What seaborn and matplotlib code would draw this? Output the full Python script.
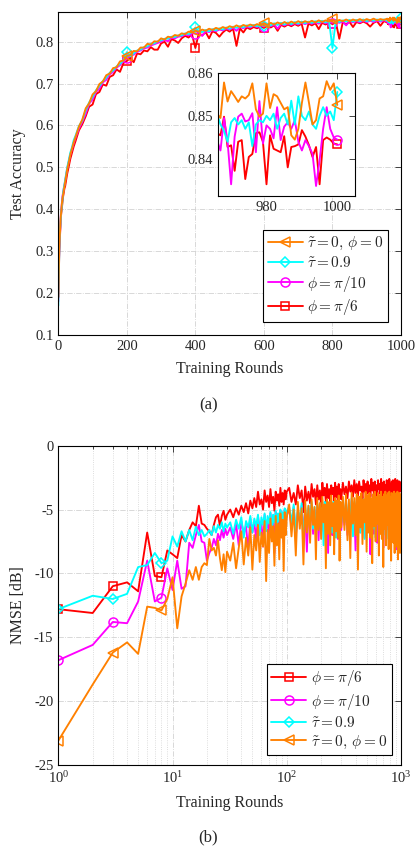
import numpy as np
import matplotlib
matplotlib.use("Agg")
import matplotlib.pyplot as plt
import seaborn as sns
from matplotlib.ticker import LogLocator, NullFormatter

# ---------------- data: (a) test accuracy ----------------
rounds_early = [0, 1, 2, 3, 4, 5, 6, 7, 8, 10, 12, 14, 16, 18, 20, 23, 26, 30, 35, 40, 45, 50]
rounds_a = np.r_[rounds_early, np.arange(60, 961, 10), np.arange(961, 1001)]

acc_orange = [
    0.19, 0.24, 0.28, 0.31, 0.33, 0.35, 0.365, 0.38, 0.39, 0.41, 0.425, 0.435, 0.445, 0.455, 0.465, 0.48, 0.495, 0.51, 0.53, 0.545, 0.56, 0.572,
    0.597, 0.614, 0.641, 0.653, 0.674, 0.682, 0.699, 0.705, 0.720, 0.724,
    0.737, 0.739, 0.753, 0.755, 0.766, 0.768, 0.778, 0.777, 0.786, 0.786,
    0.795, 0.793, 0.801, 0.800, 0.808, 0.805, 0.812, 0.810, 0.816, 0.814,
    0.820, 0.818, 0.824, 0.822, 0.826, 0.824, 0.829, 0.826, 0.831, 0.828,
    0.833, 0.830, 0.835, 0.832, 0.837, 0.834, 0.839, 0.835, 0.840, 0.837,
    0.841, 0.838, 0.842, 0.839, 0.844, 0.840, 0.845, 0.841, 0.846, 0.842,
    0.847, 0.843, 0.848, 0.844, 0.849, 0.845, 0.849, 0.846, 0.850, 0.846,
    0.851, 0.847, 0.851, 0.848, 0.853, 0.848, 0.852, 0.849, 0.853, 0.849,
    0.853, 0.850, 0.854, 0.850, 0.854, 0.851, 0.855, 0.851, 0.854, 0.852, 0.855,
    0.852, 0.851, 0.854, 0.850, 0.853, 0.8505, 0.8495, 0.8577, 0.8533, 0.8557,
    0.8545, 0.8532, 0.8545, 0.8540, 0.8548, 0.8575, 0.8515, 0.8498, 0.8505, 0.8575,
    0.8518, 0.8550, 0.8545, 0.8530, 0.8515, 0.8520, 0.8455, 0.8445, 0.8470, 0.8530,
    0.8577, 0.8530, 0.8480, 0.8490, 0.8540, 0.8545, 0.8580, 0.8560, 0.8575, 0.8525,
]
acc_cyan = [
    0.17, 0.23, 0.27, 0.30, 0.33, 0.35, 0.36, 0.375, 0.39, 0.405, 0.42, 0.44, 0.45, 0.46, 0.47, 0.485, 0.50, 0.515, 0.535, 0.548, 0.565, 0.575,
    0.598, 0.612, 0.636, 0.655, 0.668, 0.684, 0.694, 0.706, 0.714, 0.726,
    0.731, 0.741, 0.747, 0.756, 0.775, 0.765, 0.772, 0.779, 0.781, 0.787,
    0.789, 0.795, 0.796, 0.801, 0.803, 0.807, 0.807, 0.812, 0.811, 0.815,
    0.815, 0.820, 0.818, 0.823, 0.834, 0.824, 0.823, 0.828, 0.825, 0.830,
    0.827, 0.832, 0.829, 0.834, 0.831, 0.836, 0.833, 0.837, 0.834, 0.839,
    0.836, 0.840, 0.837, 0.841, 0.838, 0.843, 0.839, 0.844, 0.840, 0.845,
    0.841, 0.846, 0.842, 0.847, 0.843, 0.848, 0.844, 0.848, 0.845, 0.849,
    0.846, 0.850, 0.846, 0.850, 0.785, 0.851, 0.847, 0.851, 0.848, 0.852,
    0.848, 0.852, 0.849, 0.853, 0.849, 0.852, 0.850, 0.853, 0.850, 0.853, 0.851,
    0.849, 0.851, 0.848, 0.850, 0.847, 0.8505, 0.8480, 0.8465, 0.8440, 0.8485,
    0.8495, 0.8480, 0.8490, 0.8470, 0.8485, 0.8430, 0.8480, 0.8490, 0.8485, 0.8500,
    0.8490, 0.8505, 0.8470, 0.8495, 0.8505, 0.8480, 0.8535, 0.8480, 0.8545, 0.8500,
    0.8490, 0.8510, 0.8480, 0.8470, 0.8500, 0.8520, 0.8500, 0.8510, 0.8490, 0.8555,
]
acc_magenta = [
    0.18, 0.235, 0.275, 0.305, 0.325, 0.345, 0.36, 0.38, 0.395, 0.41, 0.43, 0.44, 0.45, 0.458, 0.468, 0.482, 0.497, 0.512, 0.53, 0.544, 0.558, 0.57,
    0.592, 0.609, 0.628, 0.652, 0.662, 0.680, 0.688, 0.703, 0.709, 0.722,
    0.728, 0.738, 0.744, 0.753, 0.760, 0.766, 0.769, 0.776, 0.779, 0.784,
    0.786, 0.791, 0.794, 0.797, 0.800, 0.804, 0.801, 0.809, 0.808, 0.812,
    0.813, 0.817, 0.815, 0.820, 0.819, 0.822, 0.814, 0.825, 0.823, 0.827,
    0.825, 0.829, 0.827, 0.831, 0.829, 0.833, 0.826, 0.835, 0.832, 0.836,
    0.834, 0.838, 0.835, 0.839, 0.836, 0.840, 0.837, 0.841, 0.831, 0.842,
    0.839, 0.843, 0.840, 0.844, 0.841, 0.845, 0.842, 0.845, 0.843, 0.846,
    0.843, 0.847, 0.844, 0.847, 0.845, 0.848, 0.845, 0.848, 0.839, 0.849,
    0.846, 0.849, 0.846, 0.850, 0.847, 0.850, 0.847, 0.850, 0.848, 0.851, 0.848,
    0.846, 0.844, 0.848, 0.843, 0.847, 0.8444, 0.8420, 0.8495, 0.8440, 0.8342,
    0.8452, 0.8498, 0.8505, 0.8487, 0.8490, 0.8506, 0.8416, 0.8534, 0.8436, 0.8478,
    0.8470, 0.8448, 0.8520, 0.8444, 0.8475, 0.8485, 0.8470, 0.8490, 0.8440, 0.8420,
    0.8444, 0.8430, 0.8412, 0.8338, 0.8397, 0.8470, 0.8520, 0.8470, 0.8450, 0.8445,
]
acc_red = [
    0.19, 0.22, 0.265, 0.30, 0.32, 0.34, 0.355, 0.37, 0.385, 0.40, 0.415, 0.43, 0.44, 0.45, 0.455, 0.47, 0.485, 0.50, 0.52, 0.535, 0.55, 0.562,
    0.588, 0.603, 0.622, 0.645, 0.650, 0.675, 0.680, 0.698, 0.695, 0.716,
    0.720, 0.734, 0.728, 0.749, 0.754, 0.761, 0.751, 0.772, 0.770, 0.779,
    0.777, 0.787, 0.781, 0.781, 0.796, 0.800, 0.788, 0.806, 0.803, 0.797,
    0.808, 0.814, 0.810, 0.818, 0.785, 0.820, 0.815, 0.823, 0.808, 0.825,
    0.821, 0.812, 0.822, 0.829, 0.824, 0.831, 0.790, 0.832, 0.822, 0.834,
    0.830, 0.835, 0.832, 0.836, 0.833, 0.838, 0.834, 0.839, 0.826, 0.840,
    0.836, 0.841, 0.837, 0.842, 0.838, 0.843, 0.810, 0.843, 0.839, 0.844,
    0.830, 0.845, 0.841, 0.846, 0.842, 0.846, 0.807, 0.846, 0.842, 0.847,
    0.835, 0.847, 0.844, 0.848, 0.844, 0.836, 0.845, 0.849, 0.838, 0.849, 0.846,
    0.844, 0.842, 0.846, 0.841, 0.845, 0.8460, 0.8455, 0.8498, 0.8428, 0.8432,
    0.8373, 0.8440, 0.8444, 0.8354, 0.8405, 0.8412, 0.8460, 0.8462, 0.8440, 0.8342,
    0.8455, 0.8424, 0.8420, 0.8416, 0.8453, 0.8381, 0.8428, 0.8430, 0.8434, 0.8467,
    0.8452, 0.8432, 0.8405, 0.8428, 0.8342, 0.8444, 0.8450, 0.8445, 0.8436, 0.8434,
]
marker_rounds_a = [200, 400, 600, 800, 1000]
labels_a = [r"$\tilde{\tau}=0,\,\phi=0$", r"$\tilde{\tau}=0.9$", r"$\phi=\pi/10$", r"$\phi=\pi/6$"]
xticks_a = [0, 200, 400, 600, 800, 1000]
yticks_a = [0.1, 0.2, 0.3, 0.4, 0.5, 0.6, 0.7, 0.8]
xticks_in = [980, 1000]
yticks_in = [0.84, 0.85, 0.86]

# ---------------- data: (b) NMSE ----------------
rounds_b = np.r_[np.arange(1, 31), np.arange(32, 101, 2), np.arange(105, 301, 5), np.arange(310, 1001, 10)]

nmse_red = [
    -12.8, -13.1, -11.0, -10.7, -11.4, -6.8, -10.2, -10.3, -8.2, -8.5,
    -8.8, -7.0, -7.5, -6.6, -6.0, -6.3, -4.7, -6.1, -6.2, -6.5,
    -6.7, -7.0, -6.2, -5.6, -5.4, -6.3, -5.5, -5.1, -5.8, -5.4,
    -5.0, -5.6, -4.9, -5.4, -4.7, -5.2, -4.5, -5.3, -4.3, -4.9,
    -4.1, -4.8, -3.6, -4.6, -4.2, -5.0, -3.5, -4.4, -3.9, -4.8,
    -3.4, -4.5, -4.0, -5.1, -3.6, -4.3, -3.8, -4.7, -3.3, -4.4,
    -3.7, -4.6, -3.5, -4.2, -3.6,
    -3.3, -4.4, -3.7, -4.6, -3.1, -4.1, -3.5, -5.2, -3.2, -4.3,
    -3.6, -4.5, -3.0, -4.0, -3.4, -4.6, -3.1, -4.2, -3.5, -4.8,
    -2.9, -3.9, -3.3, -4.4, -3.0, -4.1, -3.4, -4.5, -3.1, -3.8,
    -3.3, -4.3, -2.9, -4.0, -3.2, -4.6, -3.0, -3.9, -3.4, -4.2,
    -2.9, -3.8, -3.2, -4.1, -2.8, -3.6, -3.1, -4.0, -2.7, -3.7,
    -3.0, -3.9, -2.8, -3.5, -3.2, -4.2, -2.7, -3.6, -3.0, -3.8,
    -2.8, -3.7, -3.1, -4.0, -2.6, -3.5, -2.9, -3.9, -2.8, -3.6,
    -3.1, -4.1, -2.7, -3.4, -3.0, -3.8, -2.6, -3.7, -2.9, -4.0,
    -2.8, -3.5, -3.1, -3.9, -2.7, -3.6, -2.9, -3.8, -2.6, -3.4,
    -3.0, -4.0, -2.8, -3.7, -2.7, -3.5, -3.1, -3.9, -2.6, -3.6,
    -2.9, -3.8, -2.7, -3.5, -3.0, -3.9, -2.8, -3.6, -2.9, -3.4,
]
nmse_magenta = [
    -16.8, -15.6, -13.8, -13.9, -12.2, -9.0, -12.2, -11.9, -9.6, -11.3,
    -9.0, -11.2, -11.0, -7.6, -8.0, -7.0, -6.2, -7.5, -7.6, -9.0,
    -8.4, -8.0, -7.3, -7.8, -6.9, -7.4, -6.6, -7.2, -6.5, -7.0,
    -6.4, -7.3, -6.1, -7.8, -5.9, -6.9, -6.3, -8.2, -5.7, -6.8,
    -6.0, -7.4, -5.5, -6.6, -5.9, -7.9, -5.4, -6.5, -5.8, -7.2,
    -5.3, -6.4, -6.0, -8.4, -5.2, -6.3, -5.6, -7.0, -5.1, -6.2,
    -5.5, -7.6, -5.0, -6.1, -5.4,
    -5.0, -6.3, -4.8, -7.1, -5.2, -6.0, -4.7, -6.8, -5.1, -8.3,
    -4.9, -6.2, -4.6, -6.9, -5.0, -6.1, -4.8, -7.4, -4.6, -6.0,
    -5.1, -6.7, -4.5, -6.3, -4.9, -8.4, -4.7, -6.1, -4.6, -7.0,
    -5.0, -6.4, -4.5, -6.2, -4.8, -7.3, -4.6, -6.0, -4.9, -6.6,
    -4.6, -6.2, -4.4, -7.0, -4.8, -5.9, -4.3, -6.6, -4.7, -8.2,
    -4.5, -6.0, -4.3, -6.8, -4.6, -5.8, -4.2, -7.2, -4.5, -6.1,
    -4.4, -6.5, -4.7, -8.5, -4.3, -5.9, -4.5, -6.9, -4.2, -6.3,
    -4.6, -7.6, -4.4, -6.0, -4.3, -6.7, -4.5, -5.8, -4.2, -8.0,
    -4.4, -6.2, -4.6, -7.1, -4.3, -6.0, -4.5, -6.6, -4.2, -7.8,
    -4.4, -6.1, -4.3, -6.9, -4.6, -5.9, -4.2, -7.3, -4.4, -6.4,
    -4.3, -8.1, -4.5, -6.0, -4.2, -6.8, -4.4, -6.2, -4.3, -7.4,
]
nmse_cyan = [
    -12.8, -11.75, -12.0, -11.6, -9.5, -9.35, -8.4, -9.2, -9.0, -7.1,
    -7.9, -6.7, -7.5, -6.6, -7.4, -6.35, -7.0, -6.6, -7.1, -6.9,
    -6.6, -7.0, -6.3, -6.8, -6.2, -6.5, -6.0, -6.7, -6.1, -6.4,
    -6.0, -6.9, -5.8, -6.5, -5.6, -7.2, -5.9, -6.4, -5.5, -6.8,
    -5.7, -6.3, -5.4, -7.0, -5.6, -6.2, -5.3, -6.7, -5.5, -6.1,
    -5.2, -7.3, -5.4, -6.0, -5.1, -6.6, -5.3, -5.9, -5.0, -6.8,
    -5.2, -6.1, -4.9, -6.4, -5.1,
    -4.8, -6.0, -4.6, -6.7, -5.0, -5.8, -4.5, -7.6, -4.9, -6.2,
    -4.7, -5.9, -4.4, -6.5, -4.8, -7.0, -4.6, -5.8, -4.5, -6.3,
    -4.9, -7.8, -4.4, -6.0, -4.7, -6.4, -4.5, -5.9, -4.6, -6.8,
    -4.4, -6.1, -4.8, -7.2, -4.5, -5.9, -4.6, -6.5, -4.4, -6.0,
    -4.4, -6.0, -4.2, -6.6, -4.5, -5.8, -4.1, -7.1, -4.4, -6.2,
    -4.3, -5.9, -4.1, -6.8, -4.5, -6.0, -4.2, -7.3, -4.3, -5.8,
    -4.4, -6.4, -4.1, -6.9, -4.3, -5.9, -4.2, -6.5, -4.4, -7.2,
    -4.2, -6.0, -4.3, -6.7, -4.1, -5.8, -4.4, -6.3, -4.2, -7.0,
    -4.3, -6.1, -4.1, -6.6, -4.4, -5.9, -4.2, -7.3, -4.3, -6.2,
    -4.1, -6.0, -4.4, -6.8, -4.2, -5.8, -4.3, -6.5, -4.1, -7.1,
    -4.3, -6.2, -4.2, -6.9, -4.4, -6.0, -4.2, -6.6, -4.3, -7.6,
]
nmse_orange = [
    -23.1, -18.7, -16.2, -15.4, -16.3, -12.6, -12.7, -12.9, -12.0, -10.3,
    -14.3, -11.8, -10.8, -9.75, -10.5, -9.5, -10.5, -9.5, -9.2, -9.35,
    -7.3, -8.2, -8.0, -8.6, -7.4, -8.8, -9.75, -8.5, -9.9, -8.3,
    -9.0, -7.6, -9.6, -8.0, -6.7, -9.3, -7.2, -8.6, -6.4, -9.7,
    -7.0, -8.2, -6.2, -9.1, -6.8, -7.9, -5.9, -10.6, -6.6, -8.4,
    -5.7, -7.5, -6.3, -9.4, -5.5, -7.8, -6.1, -8.9, -5.3, -7.2,
    -5.8, -9.8, -5.2, -7.0, -5.6,
    -4.6, -7.1, -5.0, -8.6, -4.4, -6.5, -4.9, -9.3, -4.3, -6.8,
    -4.7, -7.6, -4.2, -6.2, -4.8, -8.9, -4.1, -6.6, -4.5, -7.3,
    -4.0, -6.0, -4.6, -9.6, -4.2, -6.9, -4.4, -7.8, -3.9, -6.3,
    -4.5, -8.5, -4.1, -6.7, -4.3, -7.2, -3.9, -9.0, -4.4, -6.4,
    -4.0, -6.6, -3.8, -7.4, -4.2, -8.8, -3.7, -6.1, -4.1, -7.0,
    -3.8, -9.7, -4.0, -6.4, -3.7, -7.7, -4.2, -6.0, -3.6, -8.3,
    -3.9, -6.8, -3.7, -7.2, -4.1, -9.2, -3.8, -6.3, -3.6, -7.5,
    -4.0, -6.1, -3.7, -8.6, -3.9, -6.9, -3.6, -7.3, -4.0, -9.5,
    -3.8, -6.5, -3.6, -7.8, -3.9, -6.2, -3.7, -8.1, -3.6, -7.0,
    -4.0, -9.0, -3.7, -6.4, -3.8, -7.6, -3.6, -8.4, -3.9, -6.7,
    -3.7, -7.9, -3.6, -8.9, -3.8, -6.6, -3.7, -8.4, -3.9, -7.5,
]
marker_rounds_b = [1, 3, 8]
labels_b = [r"$\phi=\pi/6$", r"$\phi=\pi/10$", r"$\tilde{\tau}=0.9$", r"$\tilde{\tau}=0,\,\phi=0$"]
yticks_b = [-25, -20, -15, -10, -5, 0]
xticks_b = [1, 10, 100, 1000]
xticklabels_b = [r"$\mathregular{10^{0}}$", r"$\mathregular{10^{1}}$", r"$\mathregular{10^{2}}$", r"$\mathregular{10^{3}}$"]

for arr in (acc_orange, acc_cyan, acc_magenta, acc_red):
    assert len(arr) == len(rounds_a), (len(arr), len(rounds_a))
for arr in (nmse_red, nmse_magenta, nmse_cyan, nmse_orange):
    assert len(arr) == len(rounds_b), (len(arr), len(rounds_b))

C_OR, C_CY, C_MA, C_RE = "#FF8000", "#00FFFF", "#FF00FF", "#FF0000"

# ---------------- style ----------------
sns.set_theme(style="white")
plt.rcParams["font.family"] = ["Liberation Serif", "DejaVu Serif"]
plt.rcParams["mathtext.fontset"] = "cm"
plt.rcParams["axes.unicode_minus"] = False
plt.rcParams["axes.edgecolor"] = "black"
plt.rcParams["axes.linewidth"] = 0.8
plt.rcParams["xtick.color"] = "#262626"
plt.rcParams["ytick.color"] = "#262626"

fig = plt.figure(figsize=(4.17, 8.48), dpi=100)
ax1 = fig.add_axes([0.1398, 0.6050, 0.8218, 0.3809])
ax2 = fig.add_axes([0.1398, 0.0979, 0.8218, 0.3765])
axin = fig.add_axes([0.5228, 0.7689, 0.3285, 0.1456])

MS = {"<": 7.0, "D": 5.0, "o": 6.5, "s": 5.2}


def draw(ax, x, y, color, marker, mark_rounds):
    idx = [int(np.where(np.asarray(x) == r)[0][0]) for r in mark_rounds]
    sns.lineplot(x=x, y=y, ax=ax, color=color, linewidth=1.35, marker=marker,
                 markevery=idx, markersize=MS[marker], markerfacecolor="none",
                 markeredgecolor=color, markeredgewidth=1.1, sort=False,
                 estimator=None, legend=False)
    return ax.lines[-1]


def style_axes(ax, fs=10.5):
    ax.tick_params(which="both", direction="in", top=True, right=True,
                   labelsize=fs, colors="#262626", length=4, width=0.6)
    ax.tick_params(which="minor", length=2.2)
    for s in ax.spines.values():
        s.set_color("black")
        s.set_linewidth(0.8)


# ----- (a) -----
ax1.set_axisbelow(True)
series_a = [(acc_red, C_RE, "s"), (acc_magenta, C_MA, "o"), (acc_cyan, C_CY, "D"), (acc_orange, C_OR, "<")]
lines_a = {}
for y, c, m in series_a:
    lines_a[c] = draw(ax1, rounds_a, y, c, m, marker_rounds_a)
ax1.set_xlim(0, 1000)
ax1.set_ylim(0.1, 0.871)
ax1.set_xticks(xticks_a)
ax1.set_xticklabels([str(v) for v in xticks_a])
ax1.set_yticks(yticks_a)
ax1.set_yticklabels([f"{v:.1f}" for v in yticks_a])
ax1.grid(True, which="major", linestyle="-.", color="#d2d2d2", linewidth=0.6)
style_axes(ax1)
ax1.set_xlabel("Training Rounds", fontsize=11.5, color="#262626")
ax1.set_ylabel("Test Accuracy", fontsize=11.5, color="#262626")
ax1.xaxis.set_label_coords(0.5, -0.08)
ax1.yaxis.set_label_coords(-0.095, 0.5)
leg1 = ax1.legend([lines_a[C_OR], lines_a[C_CY], lines_a[C_MA], lines_a[C_RE]], labels_a,
                  loc="lower right", bbox_to_anchor=(0.962, 0.041), borderaxespad=0,
                  fancybox=False, edgecolor="black", framealpha=1, fontsize=11,
                  handlelength=2.3, handletextpad=0.3, labelspacing=0.22, borderpad=0.3)
leg1.get_frame().set_linewidth(0.8)

# inset
for y, c, m in series_a:
    draw(axin, rounds_a, y, c, m, marker_rounds_a)
axin.set_facecolor("white")
axin.set_xlim(966.3, 1005)
axin.set_ylim(0.8315, 0.86)
axin.set_xticks(xticks_in)
axin.set_xticklabels([str(v) for v in xticks_in])
axin.set_yticks(yticks_in)
axin.set_yticklabels([f"{v:.2f}" for v in yticks_in])
axin.grid(False)
style_axes(axin)
axin.set_xlabel("")
axin.set_ylabel("")

# ----- (b) -----
ax2.set_axisbelow(True)
series_b = [(nmse_red, C_RE, "s"), (nmse_magenta, C_MA, "o"), (nmse_cyan, C_CY, "D"), (nmse_orange, C_OR, "<")]
lines_b = []
for y, c, m in series_b:
    lines_b.append(draw(ax2, rounds_b, y, c, m, marker_rounds_b))
ax2.set_xscale("log")
ax2.set_xlim(1, 1000)
ax2.set_ylim(-25, 0)
ax2.set_xticks(xticks_b)
ax2.set_xticklabels(xticklabels_b)
ax2.xaxis.set_minor_locator(LogLocator(base=10, subs=np.arange(2, 10)))
ax2.xaxis.set_minor_formatter(NullFormatter())
ax2.set_yticks(yticks_b)
ax2.set_yticklabels([str(v) for v in yticks_b])
ax2.grid(True, which="major", linestyle="-.", color="#d2d2d2", linewidth=0.6)
ax2.grid(True, which="minor", axis="x", linestyle=":", color="#d2d2d2", linewidth=0.6)
style_axes(ax2)
ax2.set_xlabel("Training Rounds", fontsize=11.5, color="#262626")
ax2.set_ylabel("NMSE [dB]", fontsize=11.5, color="#262626")
ax2.xaxis.set_label_coords(0.5, -0.095)
ax2.yaxis.set_label_coords(-0.095, 0.5)
leg2 = ax2.legend(lines_b, labels_b, loc="lower right", bbox_to_anchor=(0.973, 0.031),
                  borderaxespad=0, fancybox=False, edgecolor="black", framealpha=1,
                  fontsize=11, handlelength=2.3, handletextpad=0.3, labelspacing=0.22,
                  borderpad=0.3)
leg2.get_frame().set_linewidth(0.8)

fig.text(0.5, 0.522, "(a)", ha="center", va="center", fontsize=12, color="#262626")
fig.text(0.5, 0.013, "(b)", ha="center", va="center", fontsize=12, color="#262626")

fig.savefig("out.png", dpi=100)
